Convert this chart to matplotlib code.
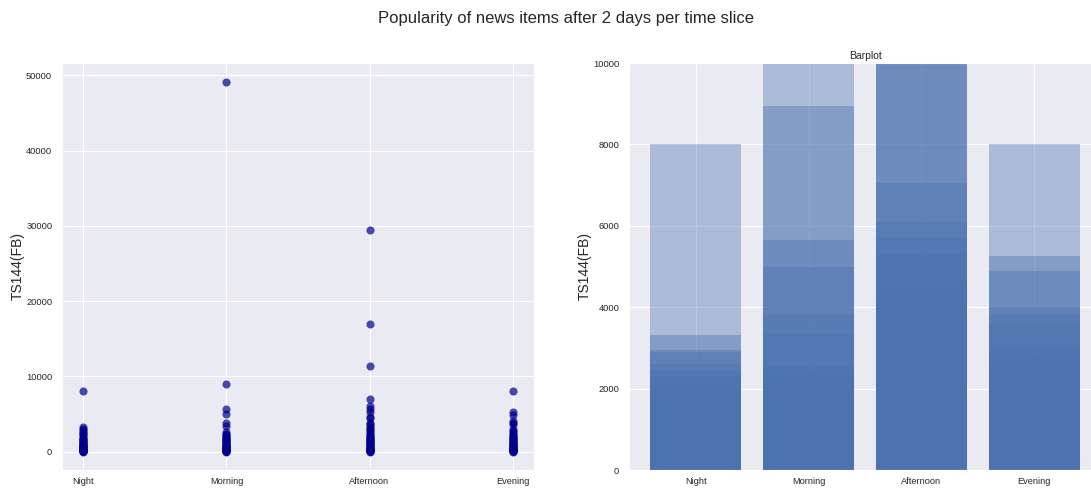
import numpy as np
import seaborn as sns
from matplotlib import pyplot as plt

sns.set_style("darkgrid")
plt.rcParams['font.family'] = ['Liberation Sans', 'DejaVu Sans']

slices = ["Night", "Morning", "Afternoon", "Evening"]

# TS144(FB) per news item, grouped by publication time slice
night = [8000, 3320, 2950, 2900, 2600, 2450, 2300, 2150, 2000, 1850, 1700,
         1600, 1500, 1400, 1300, 1200, 1100, 1000, 900, 850, 800, 700, 650,
         600, 550, 500, 450, 400, 350, 300, 250, 200, 150, 120, 100, 80, 60,
         40, 20, 10]
morning = [49200, 8950, 5650, 5000, 3800, 3350, 2550, 2400, 2200, 2050, 1900,
           1800, 1700, 1600, 1500, 1400, 1300, 1200, 1100, 1000, 900, 800,
           750, 700, 600, 550, 500, 450, 400, 350, 300, 250, 200, 150, 100,
           80, 60, 40, 20, 10]
afternoon = [29500, 17000, 11400, 7050, 6100, 5700, 5300, 4600, 4400, 3800,
             3600, 3400, 3200, 3000, 2800, 2600, 2400, 2200, 2000, 1900, 1800,
             1700, 1600, 1500, 1400, 1300, 1200, 1100, 1000, 900, 800, 700,
             600, 500, 450, 400, 350, 300, 250, 200, 150, 100, 80, 50, 30, 10]
evening = [8000, 5250, 4900, 4000, 3800, 3600, 3000, 2800, 2600, 2400, 2200,
           2000, 1900, 1800, 1700, 1600, 1500, 1400, 1300, 1200, 1100, 1000,
           900, 800, 700, 600, 550, 500, 450, 400, 350, 300, 250, 200, 150,
           100, 80, 50, 30, 10]
groups = [night, morning, afternoon, evening]

fig = plt.figure(figsize=(10.91, 4.88), dpi=100)
ax1 = fig.add_axes([62/1091, 18/488, 472/1091, 407/488])
ax2 = fig.add_axes([629/1091, 18/488, 472/1091, 407/488])

for i, vals in enumerate(groups):
    ax1.scatter(np.full(len(vals), i), vals, s=34, color="darkblue",
                alpha=0.7, linewidth=0)
ax1.set_xticks(range(4))
ax1.set_xticklabels(slices)
ax1.set_ylabel("TS144(FB)", fontsize=10, labelpad=1)
ax1.tick_params(labelsize=6.7, colors=".15")
ax1.tick_params(axis="x", pad=1.5)

for i, vals in enumerate(groups):
    for v in vals:
        ax2.bar(i, v, width=0.8, color="#4C72B0", alpha=0.4, linewidth=0)
ax2.set_xticks(range(4))
ax2.set_xticklabels(slices)
ax2.set_ylim(0, 10000)
ax2.set_title("Barplot", fontsize=7.5, pad=3)
ax2.set_ylabel("TS144(FB)", fontsize=10, labelpad=1)
ax2.tick_params(labelsize=6.7, colors=".15")
ax2.tick_params(axis="x", pad=1.5)

fig.suptitle("Popularity of news items after 2 days per time slice",
             x=565.5/1091, y=1-18/488, va="center", fontsize=12)

plt.savefig("out.png", dpi=100)
